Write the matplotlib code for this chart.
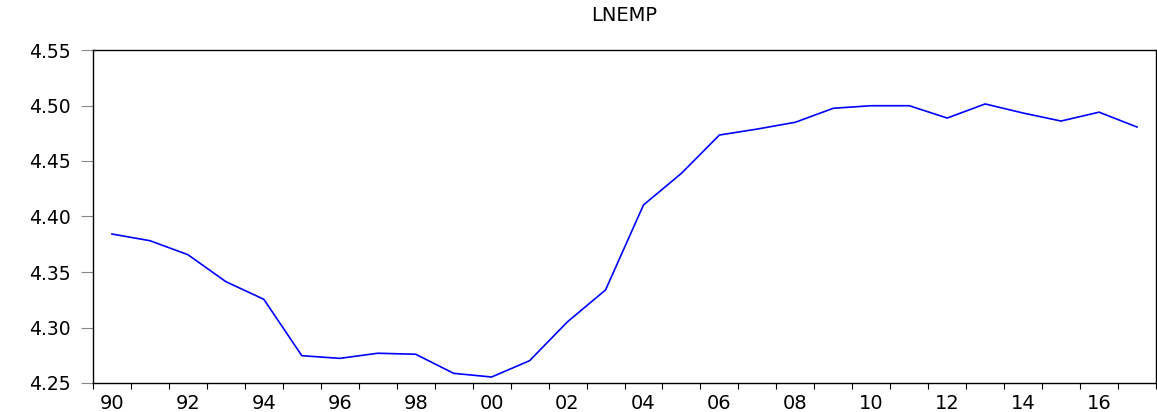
import numpy as np
import matplotlib.pyplot as plt

# LNEMP, serie anual 1990-2017
years = np.arange(1990, 2018)
lnemp = [4.3842, 4.3782, 4.3656, 4.3413, 4.3254, 4.2746, 4.2722, 4.2768,
         4.2759, 4.2587, 4.2554, 4.2701, 4.3052, 4.3338, 4.4104, 4.4389,
         4.4734, 4.4788, 4.4849, 4.4975, 4.4998, 4.4998, 4.4887, 4.5014,
         4.4932, 4.4860, 4.4940, 4.4806]
yticks = [4.25, 4.30, 4.35, 4.40, 4.45, 4.50, 4.55]
xlabels = ["90", "92", "94", "96", "98", "00", "02", "04", "06", "08",
           "10", "12", "14", "16"]

plt.rcParams['font.family'] = ['DejaVu Sans']

fig = plt.figure(figsize=(11.57, 4.12), dpi=100)
ax = fig.add_axes([93 / 1157, 1 - 383 / 412, 1063 / 1157, 333 / 412])

# cada observación se dibuja a mitad del año
ax.plot(years + 0.5, lnemp, color="#0000ff", linewidth=1.2)

ax.set_xlim(1990, 2018)
ax.set_ylim(4.25, 4.55)

ax.set_yticks(yticks)
ax.set_yticklabels([f"{v:.2f}" for v in yticks], fontsize=13.5)
ax.tick_params(axis='y', direction='out', length=9, width=0.8,
               color="#888888", pad=7)

# marcas en cada año, etiquetas centradas en los años pares
ax.set_xticks(np.arange(1990, 2019))
ax.set_xticklabels([])
ax.tick_params(axis='x', which='major', direction='out', length=4,
               width=0.8, color="black")
ax.set_xticks(np.arange(1990, 2018, 2) + 0.5, minor=True)
ax.set_xticklabels(xlabels, minor=True, fontsize=14)
ax.tick_params(axis='x', which='minor', length=0, pad=8)

for s in ax.spines.values():
    s.set_linewidth(1.0)

ax.set_title("LNEMP", fontsize=14, pad=21)

fig.savefig("out.png", dpi=100)
